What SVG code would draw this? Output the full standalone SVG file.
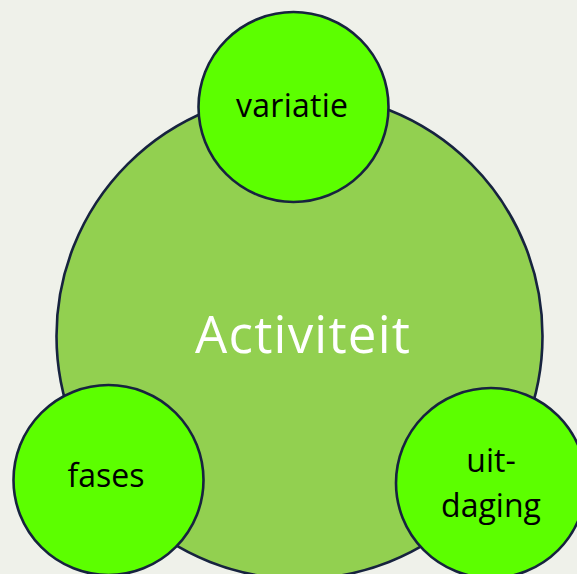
<svg xmlns="http://www.w3.org/2000/svg" width="577" height="574" viewBox="0 0 577 574">
  <style>
    .ring { stroke: #17233f; stroke-width: 2.6; }
    .main { fill: #92d050; }
    .sub { fill: #5cff00; }
    .label { font-family: "Open Sans", "Liberation Sans", sans-serif; fill: #000; text-anchor: middle; font-size: 32px; }
    .title { font-family: "Open Sans", "Liberation Sans", sans-serif; fill: #ffffff; text-anchor: middle; font-size: 51px; }
  </style>
  <rect width="577" height="574" fill="#eff1ea"/>
  <g id="activiteit">
    <circle class="ring main" cx="299.5" cy="336" r="243"/>
    <text class="title" x="302.5" y="353" textLength="215" lengthAdjust="spacing">Activiteit</text>
  </g>
  <g id="variatie">
    <circle class="ring sub" cx="293.5" cy="107" r="95"/>
    <text class="label" x="292" y="117" textLength="112" lengthAdjust="spacing">variatie</text>
  </g>
  <g id="fases">
    <circle class="ring sub" cx="108.5" cy="480" r="95"/>
    <text class="label" x="106" y="487">fases</text>
  </g>
  <g id="uitdaging">
    <circle class="ring sub" cx="491" cy="483" r="95"/>
    <text class="label" x="491" y="472">uit-</text>
    <text class="label" x="491" y="517">daging</text>
  </g>
  <g id="connectors"/>
</svg>
